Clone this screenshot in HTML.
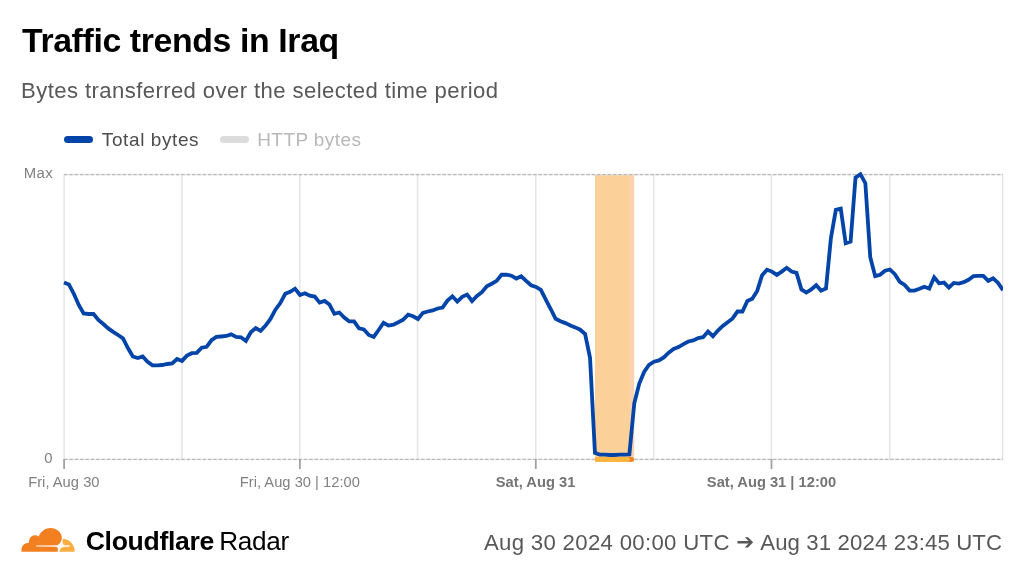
<!DOCTYPE html>
<html lang="en">
<head>
<meta charset="utf-8">
<title>Traffic trends in Iraq</title>
<style>
html,body{margin:0;padding:0;background:#fff;}
body{width:1024px;height:576px;position:relative;overflow:hidden;font-family:"Liberation Sans",sans-serif;}
.t{position:absolute;white-space:nowrap;line-height:1;font-family:"Liberation Sans",sans-serif;}
.pill{position:absolute;height:7px;border-radius:3.5px;width:28.5px;top:136.4px;}
#p1{left:64.4px;background:#0344a8;}
#p2{left:220.2px;background:#dcdcdc;}
#arrow{left:736.2px;top:531px;font-size:21.4px;color:#595959;font-family:"DejaVu Sans",sans-serif;}
svg{position:absolute;left:0;top:0;}
</style>
</head>
<body>
<div class="pill" id="p1"></div>
<div class="pill" id="p2"></div>
<svg width="1024" height="576" viewBox="0 0 1024 576">
  <defs>
    <linearGradient id="sg" x1="0" y1="0" x2="1" y2="0"><stop offset="0" stop-color="#f9cfa8"/><stop offset="0.75" stop-color="#fde6d2"/><stop offset="1" stop-color="#ffffff"/></linearGradient>
    <clipPath id="cp"><rect x="60" y="165" width="943" height="300"/></clipPath>
  </defs>
  <g stroke="#e5e5e5" stroke-width="1.5" fill="none">
    <line x1="64.1" y1="174.5" x2="64.1" y2="459.5"/>
    <line x1="182" y1="174.5" x2="182" y2="459.5"/>
    <line x1="299.8" y1="174.5" x2="299.8" y2="459.5"/>
    <line x1="417.5" y1="174.5" x2="417.5" y2="459.5"/>
    <line x1="535.8" y1="174.5" x2="535.8" y2="459.5"/>
    <line x1="653.7" y1="174.5" x2="653.7" y2="459.5"/>
    <line x1="771.4" y1="174.5" x2="771.4" y2="459.5"/>
    <line x1="889.8" y1="174.5" x2="889.8" y2="459.5"/>
    <line x1="1002.6" y1="174.5" x2="1002.6" y2="459.5"/>
  </g>
  <rect x="595" y="175" width="39.2" height="284" fill="#fbd2ae"/>
  <rect x="595" y="175" width="34.4" height="284" fill="#fcd199"/>
  <g stroke="#ebebeb" stroke-width="1.5" fill="none">
    <line x1="64" y1="174.6" x2="1003" y2="174.6"/>
    <line x1="64" y1="459.4" x2="1003" y2="459.4"/>
  </g>
  <g stroke="#bababa" stroke-width="1.4" stroke-dasharray="3.5 1.83" fill="none">
    <line x1="64" y1="174.6" x2="1003" y2="174.6"/>
    <line x1="64" y1="459.4" x2="1003" y2="459.4"/>
  </g>
  <rect x="594.9" y="456.9" width="39.2" height="5" rx="2.5" fill="#f0852a"/>
  <rect x="594.9" y="456.9" width="35" height="5" rx="2.5" fill="#fbb540"/>
  <g stroke="#a2a2a2" stroke-width="1.8">
    <line x1="64.1" y1="459" x2="64.1" y2="469"/>
    <line x1="299.9" y1="459" x2="299.9" y2="469"/>
    <line x1="535.8" y1="459" x2="535.8" y2="469"/>
    <line x1="771.5" y1="459" x2="771.5" y2="469"/>
  </g>
  <path d="M64.00,282.50 L68.92,284.40 L73.83,293.75 L78.75,305.00 L83.66,313.40 L88.58,314.00 L93.50,314.00 L98.41,320.00 L103.33,324.00 L108.25,328.40 L113.16,331.80 L118.08,335.00 L122.99,338.40 L127.91,348.00 L132.83,356.50 L137.74,358.00 L142.66,356.50 L147.58,361.80 L152.49,365.40 L157.41,365.40 L162.32,365.00 L167.24,364.00 L172.16,363.50 L177.07,359.00 L181.99,360.90 L186.91,355.60 L191.82,353.20 L196.74,352.80 L201.65,347.75 L206.57,346.80 L211.49,340.25 L216.40,336.90 L221.32,336.50 L226.24,336.00 L231.15,334.40 L236.07,336.90 L240.98,337.25 L245.90,341.00 L250.82,332.20 L255.73,328.00 L260.65,330.90 L265.57,325.60 L270.48,319.00 L275.40,309.70 L280.31,303.10 L285.23,293.75 L290.15,291.90 L295.06,288.70 L299.98,295.00 L304.90,293.20 L309.81,295.60 L314.73,296.60 L319.64,302.60 L324.56,300.90 L329.48,304.60 L334.39,313.80 L339.31,312.50 L344.23,317.60 L349.14,321.30 L354.06,321.30 L358.97,328.40 L363.89,329.40 L368.81,335.00 L373.72,336.90 L378.64,330.00 L383.55,322.80 L388.47,325.60 L393.39,324.70 L398.30,322.25 L403.22,319.60 L408.14,314.75 L413.05,316.25 L417.97,319.00 L422.88,312.90 L427.80,311.50 L432.72,310.40 L437.63,308.50 L442.55,307.60 L447.47,300.60 L452.38,296.30 L457.30,301.60 L462.21,296.90 L467.13,294.60 L472.05,301.00 L476.96,295.90 L481.88,292.20 L486.80,286.20 L491.71,283.75 L496.63,280.90 L501.54,274.75 L506.46,274.75 L511.38,275.70 L516.29,278.50 L521.21,276.25 L526.13,280.90 L531.04,285.25 L535.96,286.90 L540.87,289.90 L545.79,299.70 L550.71,309.00 L555.62,318.80 L560.54,321.25 L565.46,323.10 L570.37,325.40 L575.29,327.40 L580.20,329.70 L585.12,334.00 L590.04,357.80 L594.95,452.90 L599.87,454.70 L604.79,454.70 L609.70,455.00 L614.62,455.00 L619.53,454.70 L624.45,454.70 L629.37,454.50 L634.28,403.40 L639.20,383.80 L644.12,372.00 L649.03,364.80 L653.95,361.70 L658.86,360.40 L663.78,357.40 L668.70,352.60 L673.61,349.00 L678.53,347.10 L683.45,344.10 L688.36,341.50 L693.28,340.40 L698.19,338.10 L703.11,337.20 L708.03,331.60 L712.94,336.25 L717.86,330.60 L722.77,325.90 L727.69,322.20 L732.61,318.40 L737.52,311.50 L742.44,311.50 L747.36,301.00 L752.27,298.75 L757.19,290.90 L762.10,275.30 L767.02,269.70 L771.94,271.60 L776.85,274.90 L781.77,271.60 L786.69,267.80 L791.60,271.60 L796.52,272.90 L801.43,289.40 L806.35,292.50 L811.27,289.40 L816.18,285.20 L821.10,290.60 L826.02,288.40 L830.93,237.90 L835.85,209.90 L840.76,208.70 L845.68,243.20 L850.60,241.50 L855.51,177.60 L860.43,174.20 L865.35,183.20 L870.26,257.30 L875.18,276.20 L880.09,274.80 L885.01,270.70 L889.93,269.50 L894.84,274.20 L899.76,281.80 L904.68,285.00 L909.59,290.60 L914.51,290.60 L919.42,288.80 L924.34,286.70 L929.26,288.50 L934.17,277.30 L939.09,283.30 L944.01,282.60 L948.92,287.50 L953.84,282.90 L958.75,283.60 L963.67,282.20 L968.59,279.80 L973.50,276.10 L978.42,275.90 L983.34,275.90 L988.25,280.80 L993.17,278.25 L998.08,282.90 L1003.00,290.30" fill="none" stroke="#0344a8" stroke-width="3.8" stroke-linejoin="miter" stroke-miterlimit="4" stroke-linecap="butt" clip-path="url(#cp)"/>
  <g transform="translate(18,524) scale(0.0625)">
    <path d="M55 445 L55 420 C55 350 100 300 175 298 C172 230 215 180 265 180 C290 180 315 188 332 198 C365 115 440 65 520 65 C620 65 700 140 702 215 C702 260 680 310 630 338 L610 365 C625 365 637 380 637 400 L637 445 Z" fill="#f38020"/>
    <path d="M720 235 C800 235 880 300 905 400 L905 445 L660 445 C670 400 700 367 745 365 L825 362 L825 340 L740 338 C715 320 702 290 720 235 Z" fill="#fbad41"/>
    <rect x="290" y="340" width="340" height="25" fill="url(#sg)"/>
  </g>
</svg>
<div class="t" id="title" style="left:21.98px;top:24px;font-size:33.8px;font-weight:bold;color:#000;letter-spacing:-0.364px">Traffic trends in Iraq</div>
<div class="t" id="sub" style="left:21.11px;top:80px;font-size:22.1px;font-weight:normal;color:#585858;letter-spacing:0.41px">Bytes transferred over the selected time period</div>
<div class="t" id="lg1" style="left:101.83px;top:130px;font-size:19px;font-weight:normal;color:#4d4d4d;letter-spacing:0.597px">Total bytes</div>
<div class="t" id="lg2" style="left:257.23px;top:130px;font-size:19px;font-weight:normal;color:#b8b8b8;letter-spacing:0.422px">HTTP bytes</div>
<div class="t" id="brand1" style="left:85.7px;top:528px;font-size:26.6px;font-weight:bold;color:#000;letter-spacing:-0.309px">Cloudflare</div>
<div class="t" id="brand2" style="left:219.23px;top:528px;font-size:26.2px;font-weight:normal;color:#000;letter-spacing:-0.319px">Radar</div>
<div class="t" id="r1" style="left:483.91px;top:532px;font-size:22.2px;font-weight:normal;color:#585858;letter-spacing:0.312px">Aug 30 2024 00:00 UTC</div>
<div class="t" id="r2" style="left:760.21px;top:532px;font-size:22.2px;font-weight:normal;color:#585858;letter-spacing:0.127px">Aug 31 2024 23:45 UTC</div>
<div class="t" id="ymax" style="left:23.85px;top:166px;font-size:14.9px;font-weight:normal;color:#808080;letter-spacing:0.35px">Max</div>
<div class="t" id="y0" style="left:44.31px;top:451px;font-size:14.8px;font-weight:normal;color:#808080;letter-spacing:0px">0</div>
<div class="t" id="x1" style="left:28.16px;top:475px;font-size:14.7px;font-weight:normal;color:#808080;letter-spacing:0.031px">Fri, Aug 30</div>
<div class="t" id="x2" style="left:239.76px;top:475px;font-size:14.7px;font-weight:normal;color:#808080;letter-spacing:0.022px">Fri, Aug 30 | 12:00</div>
<div class="t" id="x3" style="left:495.77px;top:475px;font-size:14.7px;font-weight:bold;color:#757575;letter-spacing:0.023px">Sat, Aug 31</div>
<div class="t" id="x4" style="left:706.87px;top:475px;font-size:14.7px;font-weight:bold;color:#757575;letter-spacing:-0.001px">Sat, Aug 31 | 12:00</div>
<div class="t" id="arrow">&#10132;</div>
</body>
</html>
